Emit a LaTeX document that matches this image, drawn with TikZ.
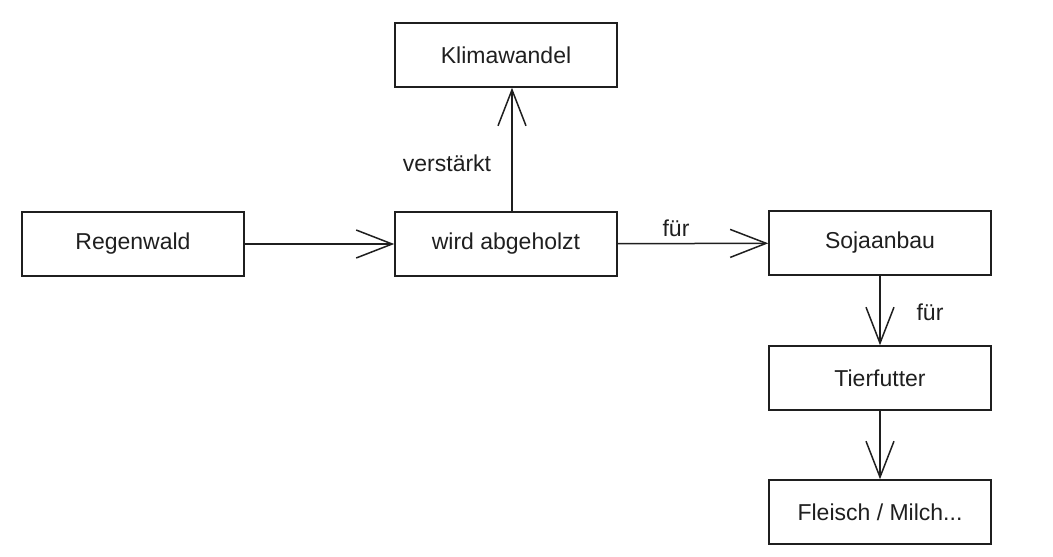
\documentclass[tikz,border=0pt]{standalone}
\usepackage{fontspec}
\setmainfont{Liberation Sans}
\usepackage{tikz}
\usetikzlibrary{arrows.meta}
\definecolor{sketchink}{rgb}{0.12,0.12,0.12}
\tikzstyle{sketchbox}=[rectangle, draw=sketchink, line width=1.5pt, minimum height=64pt, minimum width=222pt, font=\fontsize{23}{27}\selectfont, text=sketchink]
\tikzstyle{sketcharrow}=[draw=sketchink, line width=1.5pt, -{Straight Barb[length=36pt,width=28pt,line width=1.5pt]}]
\tikzstyle{sketchlabel}=[font=\fontsize{23}{27}\selectfont, text=sketchink]
\newcommand{\sketchbox}[3]{
	\node[sketchbox] (#1) at (#2) {#3};}
\newcommand{\sketchlabel}[3]{
	\node[sketchlabel] (#1) at (#2) {#3};}

\begin{document}
\begin{tikzpicture}[x=1pt, y=-1pt]
	\useasboundingbox (0,0) rectangle (1053,557);
	\sketchbox{klima}{506,55}{Klimawandel}
	\sketchbox{regen}{133,244}{Regenwald}
	\sketchbox{wird}{506,244}{wird abgeholzt}
	\sketchbox{soja}{880,243}{Sojaanbau}
	\sketchbox{tier}{880,378}{Tierfutter}
	\sketchbox{fleisch}{880,512}{Fleisch / Milch...}
	
	\sketchlabel{verstaerkt}{447,163}{verstärkt}
	\sketchlabel{fuerSoja}{676,228}{für}
	\sketchlabel{fuerTier}{930,312}{für}
	
	\path (regen) edge [sketcharrow] (wird);
	\path ([xshift=6pt]wird.north) edge [sketcharrow] ([xshift=6pt]klima.south);
	\path (wird) edge [sketcharrow] (soja);
	\path (soja) edge [sketcharrow] (tier);
	\path (tier) edge [sketcharrow] (fleisch);
\end{tikzpicture}
\end{document}
